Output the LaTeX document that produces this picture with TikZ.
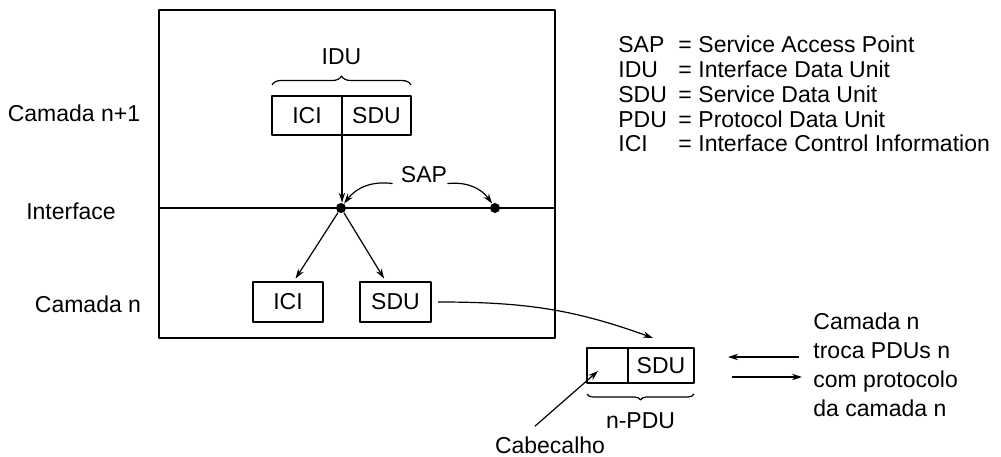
\documentclass[tikz,border=0pt]{standalone}
\usepackage{fontspec}
\setmainfont{Liberation Sans}
\usetikzlibrary{positioning,arrows.meta,decorations.pathreplacing}
\tikzset{
  box/.style={draw, line width=1pt, inner sep=0pt, outer sep=0pt, minimum height=20pt},
  lbl/.style={inner sep=0pt},
  sapdot/.style={circle, fill, inner sep=0pt, minimum size=5pt},
  conn/.style={->, line width=0.6pt},
}
\begin{document}
\begin{tikzpicture}[x=0.5pt,y=0.5pt,line join=round,>={Stealth[length=5pt,width=3.2pt]},font=\fontsize{11.5}{14.5}\selectfont]
\useasboundingbox (0,0) rectangle (1001,456);
% layers
\node[draw, line width=1pt, minimum width=198pt, minimum height=164pt, outer sep=0pt] (layer) at (357,282) {};
\node[sapdot] (sapA) at (341,248) {};
\node[sapdot] (sapB) at (495,248) {};
\draw[line width=1pt] (layer.west |- sapA) -- (layer.east |- sapA);
\node[lbl] (lblTop) at (74,343) {Camada n+1};
\node[lbl] (lblIf) at (71,245) {Interface};
\node[lbl] (lblLow) at (88,152) {Camada n};
% IDU
\node[box, minimum width=35pt, minimum height=19.5pt] (iciTop) at (307,340.5) {ICI};
\node[box, minimum width=34.5pt, minimum height=19.5pt, right=0pt of iciTop] (sduTop) {SDU};
\draw[decorate, decoration={brace, amplitude=4.5pt}, line width=0.6pt]
  ([yshift=5.5pt]iciTop.north west) -- ([yshift=5.5pt]sduTop.north east)
  node[lbl, midway, above=10pt] (idu) {IDU};
\draw[conn] (iciTop.south east) -- (iciTop.south east |- sapA.north);
% SAP
\node[lbl] (sap) at (424,281) {SAP};
\draw[conn] ([xshift=-4pt]sap.south west) to[bend right=30] (sapA);
\draw[conn] (sap.south east) to[bend left=30] (sapB);
% layer n
\node[box, minimum width=35pt] (iciLow) at (288,154) {ICI};
\node[box, minimum width=35.5pt] (sduLow) at (395.5,154) {SDU};
\draw[conn, shorten >=2pt] (sapA) -- (iciLow.75);
\draw[conn, shorten >=2pt] (sapA) -- (sduLow.115);
% n-PDU
\node[box, minimum width=20.5pt, minimum height=17.5pt] (hdr) at (607.5,90.5) {};
\node[box, minimum width=33pt, minimum height=17.5pt, right=0pt of hdr] (sduPdu) {SDU};
\draw[conn] ([xshift=3.5pt]sduLow.east) to[out=0,in=160] ([shift={(-4pt,5pt)}]sduPdu.north);
\draw[decorate, decoration={brace, amplitude=3pt, mirror}, line width=0.6pt]
  ([yshift=-5.5pt]hdr.south west) -- ([yshift=-5.5pt]sduPdu.south east)
  node[lbl, midway, below=9pt] (npdu) {n-PDU};
\node[lbl] (cab) at (550,11) {Cabecalho};
\draw[conn] ([shift={(-7.5pt,5pt)}]cab.north) -- ([shift={(5.5pt,6pt)}]hdr.south west);
% peer exchange
\node[lbl, align=left, anchor=west] (exch) at (813,91) {Camada n\\troca PDUs n\\com protocolo\\da camada n};
\draw[conn] ([shift={(-7pt,4pt)}]exch.west) -- ([shift={(-42.5pt,4pt)}]exch.west);
\draw[conn] ([shift={(-40.5pt,-6pt)}]exch.west) -- ([shift={(-5.5pt,-6pt)}]exch.west);
% legend
\foreach \ab/\txt [count=\i] in {SAP/Service Access Point, IDU/Interface Data Unit,
    SDU/Service Data Unit, PDU/Protocol Data Unit, ICI/Interface Control Information}
  {
  \node[lbl, anchor=base west] (ab\i) at (618,{403-24.75*(\i-1)}) {\ab};
  \node[lbl, anchor=base west] (eq\i) at (678,{403-24.75*(\i-1)}) {=};
  \node[lbl, anchor=base west] (ex\i) at (698,{403-24.75*(\i-1)}) {\txt};
  }
\end{tikzpicture}
\end{document}
